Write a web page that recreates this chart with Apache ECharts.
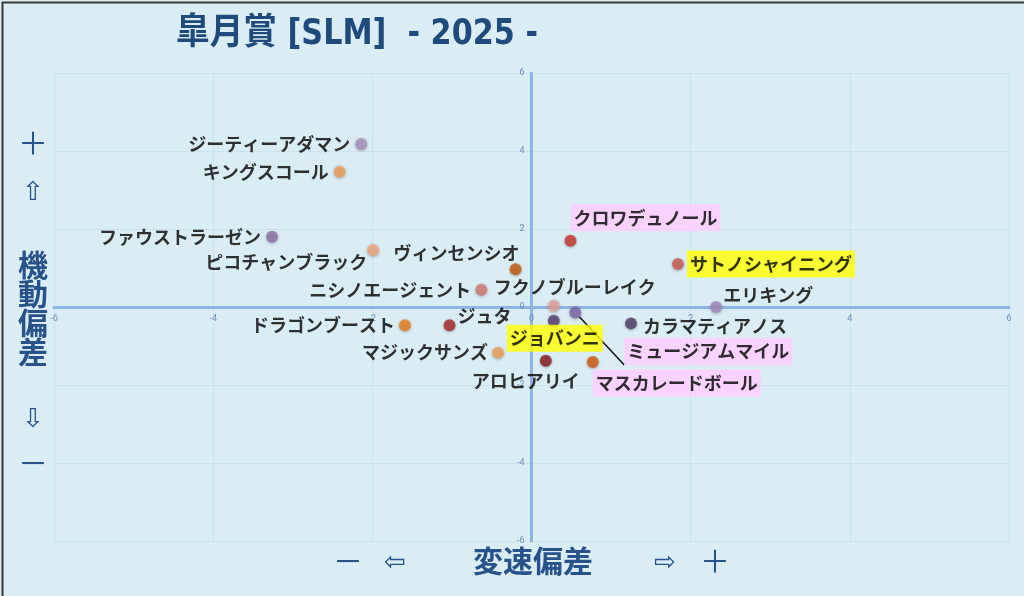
<!DOCTYPE html>
<html>
<head>
<meta charset="utf-8">
<script src="https://cdn.jsdelivr.net/npm/echarts@6/dist/echarts.min.js"></script>
<style>
  html, body { margin: 0; padding: 0; background: #dbedf4; }
  #chart { width: 1024px; height: 596px; }
</style>
</head>
<body>
<div id="chart"></div>
<script>
// 馬名 / 変速偏差(x) / 機動偏差(y)
const horseNames = [
  'ジーティーアダマン', 'キングスコール', 'ファウストラーゼン', 'ピコチャンブラック',
  'ヴィンセンシオ', 'ニシノエージェント', 'クロワデュノール', 'サトノシャイニング',
  'フクノブルーレイク', 'エリキング', 'ミュージアムマイル', 'カラマティアノス',
  'ジョバンニ', 'ジュタ', 'ドラゴンブースト', 'マジックサンズ',
  'アロヒアリイ', 'マスカレードボール'
];
const speedDev = [
  -2.14, -2.41, -3.26, -1.99,
  -0.20, -0.63, 0.49, 1.84,
  0.28, 2.32, 0.55, 1.25,
  0.28, -1.03, -1.59, -0.42,
  0.18, 0.77
];
const mobilityDev = [
  4.18, 3.47, 1.80, 1.46,
  0.97, 0.44, 1.70, 1.10,
  0.03, 0.00, -0.14, -0.42,
  -0.35, -0.47, -0.47, -1.17,
  -1.38, -1.41
];
const dotColors = [
  '#a891c0', '#f0a05a', '#8e72a8', '#f2a880',
  '#c65a0e', '#d67b72', '#c8342c', '#cc5b52',
  '#e8a29c', '#a38ac0', '#7b65a8', '#4e3c68',
  '#563d72', '#a82828', '#e8801c', '#f0a05a',
  '#861c1c', '#d45d12'
];

const PINK = '#ffccff', YELLOW = '#ffff00';
// ラベルの置き方
const labelStyle = {
  'ジーティーアダマン': { position: 'left', distance: 5 },
  'キングスコール': { position: 'left', distance: 5 },
  'ファウストラーゼン': { position: 'left', distance: 5 },
  'ピコチャンブラック': { position: 'left', distance: 0, offset: [0, 12] },
  'ヴィンセンシオ': { position: 'left', distance: 0, offset: [10, -16] },
  'ニシノエージェント': { position: 'left', distance: 4 },
  'クロワデュノール': { position: 'right', distance: 0, offset: [-6, -23], bg: PINK },
  'サトノシャイニング': { position: 'right', distance: 3, bg: YELLOW },
  'フクノブルーレイク': { position: 'top', distance: 4, offset: [21, 0] },
  'エリキング': { position: 'right', distance: 5, offset: [-4, -12] },
  'ミュージアムマイル': { position: 'right', distance: 5, offset: [38, 39], bg: PINK, line: true },
  'カラマティアノス': { position: 'right', distance: 6, offset: [0, 3] },
  'ジョバンニ': { position: 'bottom', distance: 0, offset: [1, -2], bg: YELLOW },
  'ジュタ': { position: 'right', distance: 2, offset: [0, -9] },
  'ドラゴンブースト': { position: 'left', distance: 4 },
  'マジックサンズ': { position: 'left', distance: 4 },
  'アロヒアリイ': { position: 'bottom', distance: 5, offset: [-20, 0] },
  'マスカレードボール': { position: 'right', distance: 0, offset: [-6, 21], bg: PINK }
};

const chart = echarts.init(document.getElementById('chart'));

const points = horseNames.map(function (name, i) {
  const ls = labelStyle[name];
  const label = {
    show: true,
    position: ls.position,
    distance: ls.distance,
    offset: ls.offset || [0, 0]
  };
  if (ls.bg) {
    label.backgroundColor = ls.bg;
    label.padding = [5, 3, 4, 3];
  }
  return {
    name: name,
    value: [speedDev[i], mobilityDev[i]],
    itemStyle: { color: dotColors[i] },
    label: label,
    labelLine: { show: !!ls.line }
  };
});

// grid: 左54 右15 上73 下55 → 軸を原点まで寄せる
const GRID = { left: 54, right: 15, top: 73, bottom: 55 };
const plotW = 1024 - GRID.left - GRID.right;
const plotH = 596 - GRID.top - GRID.bottom;

const axisCommon = {
  type: 'value',
  min: -6,
  max: 6,
  interval: 2,
  axisLine: { onZero: false, lineStyle: { color: '#8eb4e3', width: 3 } },
  axisTick: { show: false },
  axisLabel: { color: '#6f8db3', fontSize: 9, fontFamily: 'Roboto' },
  splitLine: { lineStyle: { color: '#cde2ee', width: 1 } }
};

const titleFont = "'Noto Sans CJK JP', 'DejaVu Sans'";
const axisTitleColor = '#27528a';

let option = {
  backgroundColor: '#dbedf4',
  animation: false,
  grid: GRID,
  xAxis: Object.assign({}, axisCommon, {
    position: 'bottom',
    offset: -plotH / 2,
    axisLabel: Object.assign({}, axisCommon.axisLabel, { margin: 7, showMaxLabel: true, showMinLabel: true })
  }),
  yAxis: Object.assign({}, axisCommon, {
    position: 'left',
    offset: -plotW / 2,
    axisLabel: Object.assign({}, axisCommon.axisLabel, { margin: 7 })
  }),
  series: [{
    type: 'scatter',
    symbolSize: 12,
    data: points,
    itemStyle: {
      shadowBlur: 3,
      shadowColor: 'rgba(0,0,0,0.35)',
      shadowOffsetY: 1
    },
    label: {
      formatter: '{b}',
      color: '#000',
      fontSize: 18,
      fontWeight: 'bold',
      fontFamily: "'Noto Sans CJK JP'"
    },
    labelLine: {
      show: false,
      lineStyle: { color: '#111', width: 1.5 }
    },
    z: 5
  }],
  graphic: [
    // タイトル(少し細めに)
    { type: 'text', x: 176, y: 17, scaleX: 0.935, style: {
      text: '皐月賞 [SLM]  - 2025 -', fontSize: 36, fontWeight: 'bold', fill: '#1f4a7c',
      fontFamily: "'DejaVu Sans Condensed', 'Noto Sans CJK JP'" } },
    // 縦軸タイトル
    { type: 'text', left: 18, top: 128, style: { text: '＋', fontSize: 30, fill: axisTitleColor, fontFamily: titleFont } },
    { type: 'text', left: 22, top: 180, style: { text: '⇧', fontSize: 26, fill: axisTitleColor, fontFamily: "'DejaVu Sans'" } },
    { type: 'text', left: 18, top: 250, style: { text: '機\n動\n偏\n差', fontSize: 30, lineHeight: 29, fontWeight: 'bold', fill: axisTitleColor, fontFamily: titleFont } },
    { type: 'text', left: 22, top: 407, style: { text: '⇩', fontSize: 26, fill: axisTitleColor, fontFamily: "'DejaVu Sans'" } },
    { type: 'text', left: 18, top: 448, style: { text: '－', fontSize: 30, fill: axisTitleColor, fontFamily: titleFont } },
    // 横軸タイトル
    { type: 'text', left: 333, top: 546, style: { text: '－', fontSize: 30, fill: axisTitleColor, fontFamily: titleFont } },
    { type: 'text', left: 384, top: 550, style: { text: '⇦', fontSize: 26, fill: axisTitleColor, fontFamily: "'DejaVu Sans'" } },
    { type: 'text', left: 473, top: 546, style: { text: '変速偏差', fontSize: 30, fontWeight: 'bold', fill: axisTitleColor, fontFamily: titleFont } },
    { type: 'text', left: 654, top: 550, style: { text: '⇨', fontSize: 26, fill: axisTitleColor, fontFamily: "'DejaVu Sans'" } },
    { type: 'text', left: 700, top: 546, style: { text: '＋', fontSize: 30, fill: axisTitleColor, fontFamily: titleFont } },
    // 外枠
    { type: 'rect', left: 0, top: 0, shape: { width: 1023, height: 595 }, style: { fill: 'none', stroke: '#3a3a3a', lineWidth: 2 }, z: 100 }
  ]
};

chart.setOption(option);
</script>
</body>
</html>
